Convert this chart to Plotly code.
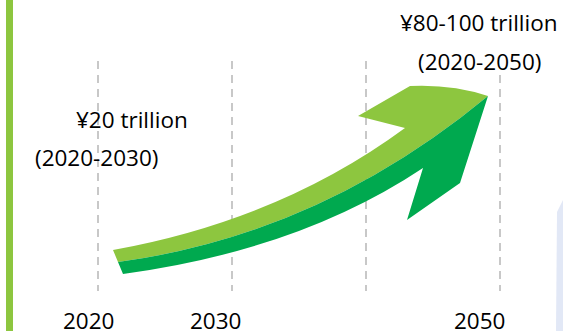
import plotly.graph_objects as go

# ---- data ----
years = [2020, 2030, 2040, 2050]
year_labels = ["2020", "2030", "", "2050"]
amount_labels = ["¥20 trillion", "¥80-100 trillion"]
period_labels = ["(2020-2030)", "(2020-2050)"]

W, H = 563, 331
LIGHT = "#8DC63F"
DARK = "#00A94F"
GRID = "#C8C8C8"
FONT = "Open Sans"
FS = 22.5

# pixel <-> year mapping for the horizontal axis (2020 at 98px, 2050 at 500px)
px_per_year = (500 - 98) / 30.0
x_left = 2020 - 98 / px_per_year
x_right = x_left + W / px_per_year


def X(px):
    return x_left + px / px_per_year


def P(px, py):
    return f"{X(px):.4f},{py}"


fig = go.Figure()
fig.add_trace(go.Scatter(x=[years[0], years[-1]], y=[-50, -50], mode="markers",
                         marker=dict(opacity=0), hoverinfo="skip", showlegend=False))

shapes = []
# left accent bar
shapes.append(dict(type="rect", xref="paper", yref="paper", x0=6 / W, x1=13 / W, y0=0, y1=1,
                   fillcolor=LIGHT, line=dict(width=0), layer="below"))
# faint lavender shape at bottom right
shapes.append(dict(type="path", xref="x", yref="y",
                   path=f"M {P(556,331)} L {P(557,212)} L {P(563,200)} L {P(563,331)} Z",
                   fillcolor="#E2E8F6", line=dict(width=0), layer="below"))
# dashed year lines
tops = [61, 61, 61, 75]
for yr, top in zip(years, tops):
    shapes.append(dict(type="line", xref="x", yref="y", x0=yr, x1=yr, y0=top, y1=291,
                       line=dict(color=GRID, width=2, dash="8px,6px"), layer="below"))

# arrow (light upper part, dark lower part)
light_path = (f"M {P(113,250)} Q {P(280,220)} {P(405,128)} L {P(358,116)} L {P(410,86)} "
              f"Q {P(452,84)} {P(488,96)} Q {P(320,235)} {P(118,262)} Z")
dark_path = (f"M {P(118,262)} Q {P(320,235)} {P(488,96)} L {P(460,183)} L {P(407,220)} "
             f"L {P(423,168)} Q {P(300,250)} {P(123,274)} Z")
shapes.append(dict(type="path", xref="x", yref="y", path=light_path,
                   fillcolor=LIGHT, line=dict(width=0)))
shapes.append(dict(type="path", xref="x", yref="y", path=dark_path,
                   fillcolor=DARK, line=dict(width=0)))

annotations = []
label_px = [88, 215, None, 479]
for lab, px in zip(year_labels, label_px):
    if lab:
        annotations.append(dict(x=X(px), y=320, xref="x", yref="y", text=lab, showarrow=False,
                                font=dict(family=FONT, size=FS, color="#000"),
                                xanchor="center", yanchor="middle"))
amount_pos = [(132, 119), (479, 22)]
period_pos = [(96, 157), (479, 61)]
for lab, (px, py) in zip(amount_labels, amount_pos):
    annotations.append(dict(x=X(px), y=py, xref="x", yref="y", text=lab, showarrow=False,
                            font=dict(family=FONT, size=FS, color="#000"),
                            xanchor="center", yanchor="middle"))
for lab, (px, py) in zip(period_labels, period_pos):
    annotations.append(dict(x=X(px), y=py, xref="x", yref="y", text=lab, showarrow=False,
                            font=dict(family=FONT, size=FS, color="#000"),
                            xanchor="center", yanchor="middle"))

fig.update_layout(
    width=W, height=H,
    margin=dict(l=0, r=0, t=0, b=0),
    paper_bgcolor="white", plot_bgcolor="white",
    xaxis=dict(range=[x_left, x_right], visible=False, fixedrange=True),
    yaxis=dict(range=[H, 0], visible=False, fixedrange=True),
    shapes=shapes, annotations=annotations, showlegend=False,
)

fig.write_html("out.html", config={"displayModeBar": False},
               post_script="document.body.style.margin='0';document.body.style.overflow='hidden';")
